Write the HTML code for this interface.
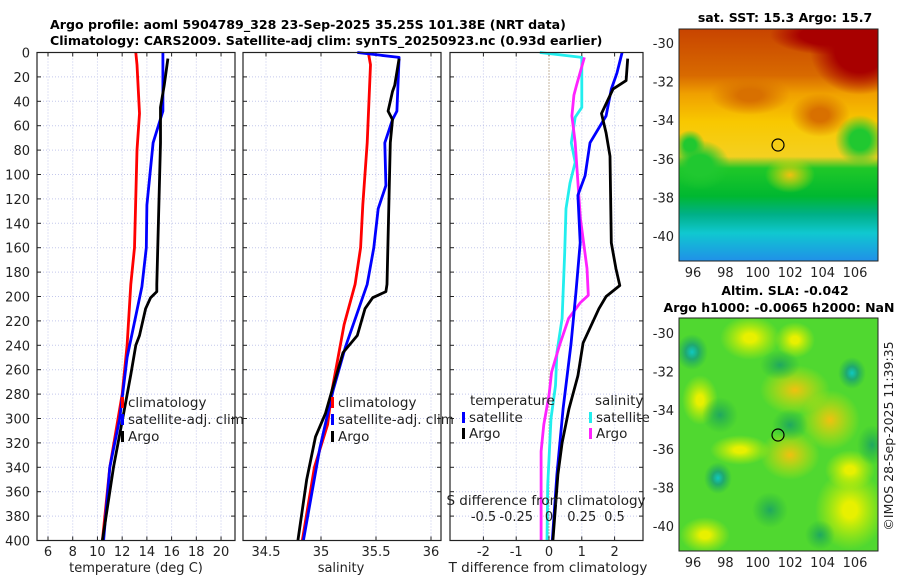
<!DOCTYPE html>
<html><head><meta charset="utf-8">
<style>
body{margin:0;background:#fff;width:900px;height:580px;overflow:hidden;font-family:"Liberation Sans","DejaVu Sans",sans-serif;}
svg text{font-family:"DejaVu Sans","Liberation Sans",sans-serif;}
</style></head>
<body>
<svg id="chart" width="900" height="580" xmlns="http://www.w3.org/2000/svg">
<defs>
<clipPath id="m1c"><rect x="679" y="29" width="199" height="232"/></clipPath>
<clipPath id="m2c"><rect x="679" y="318" width="199" height="233"/></clipPath>
<linearGradient id="sstg" x1="0" y1="0" x2="0" y2="1">
<stop offset="0" stop-color="#c84400"/><stop offset="0.2" stop-color="#d86a00"/>
<stop offset="0.28" stop-color="#f0a000"/><stop offset="0.4" stop-color="#f8c800"/>
<stop offset="0.55" stop-color="#f4d020"/><stop offset="0.6" stop-color="#20c828"/>
<stop offset="0.72" stop-color="#00b830"/><stop offset="0.8" stop-color="#00b088"/>
<stop offset="0.88" stop-color="#10c8d0"/><stop offset="1" stop-color="#2090e8"/>
</linearGradient>
<radialGradient id="dred"><stop offset="0.5" stop-color="#a80000"/><stop offset="1" stop-color="#a80000" stop-opacity="0"/></radialGradient>
<radialGradient id="grn"><stop offset="0.4" stop-color="#20c830"/><stop offset="1" stop-color="#20c830" stop-opacity="0"/></radialGradient>
<radialGradient id="org"><stop offset="0.3" stop-color="#d87000"/><stop offset="1" stop-color="#d87000" stop-opacity="0"/></radialGradient>
<radialGradient id="yel"><stop offset="0.2" stop-color="#e8f000"/><stop offset="1" stop-color="#c8f000" stop-opacity="0"/></radialGradient>
<radialGradient id="ora2"><stop offset="0" stop-color="#f0c010"/><stop offset="1" stop-color="#e0e800" stop-opacity="0"/></radialGradient>
<radialGradient id="teal"><stop offset="0" stop-color="#10c8c0"/><stop offset="0.4" stop-color="#20a870"/><stop offset="1" stop-color="#20b050" stop-opacity="0"/></radialGradient>
<radialGradient id="dgrn"><stop offset="0" stop-color="#20a860"/><stop offset="1" stop-color="#20b040" stop-opacity="0"/></radialGradient>
</defs>
<g id="titles">
<text x="50" y="29" font-size="12.6" font-weight="bold" fill="#000">Argo profile: aoml 5904789_328 23-Sep-2025 35.25S 101.38E (NRT data)</text>
<text x="50" y="45" font-size="12.6" font-weight="bold" fill="#000">Climatology: CARS2009. Satellite-adj clim: synTS_20250923.nc (0.93d earlier)</text>
</g>
<g id="panels"></g>
<g id="maps">
<g clip-path="url(#m1c)">
<rect x="679" y="29" width="199" height="232" fill="url(#sstg)"/>
<ellipse cx="860" cy="50" rx="50" ry="45" fill="url(#dred)"/>
<ellipse cx="830" cy="35" rx="60" ry="20" fill="url(#dred)"/>
<ellipse cx="750" cy="95" rx="40" ry="20" fill="url(#org)"/>
<ellipse cx="820" cy="115" rx="30" ry="22" fill="url(#org)"/>
<ellipse cx="860" cy="140" rx="25" ry="25" fill="url(#grn)"/>
<ellipse cx="700" cy="165" rx="30" ry="25" fill="url(#grn)"/>
<ellipse cx="690" cy="145" rx="15" ry="15" fill="url(#grn)"/>
<ellipse cx="790" cy="175" rx="25" ry="18" fill="url(#ora2)"/>
</g>
<rect x="679" y="29" width="199" height="232" fill="none" stroke="#222" stroke-width="1"/>
<circle cx="778" cy="145" r="6" fill="none" stroke="#000" stroke-width="1.2"/>
<text x="785" y="22" font-size="12.5" font-weight="bold" text-anchor="middle">sat. SST: 15.3 Argo: 15.7</text>
<g clip-path="url(#m2c)">
<rect x="679" y="318" width="199" height="233" fill="#50d830"/>
<ellipse cx="750" cy="338" rx="30" ry="22" fill="url(#yel)"/>
<ellipse cx="795" cy="340" rx="20" ry="18" fill="url(#yel)"/>
<ellipse cx="795" cy="390" rx="35" ry="25" fill="url(#ora2)"/>
<ellipse cx="830" cy="420" rx="30" ry="30" fill="url(#ora2)"/>
<ellipse cx="790" cy="455" rx="30" ry="25" fill="url(#ora2)"/>
<ellipse cx="740" cy="450" rx="30" ry="15" fill="url(#yel)"/>
<ellipse cx="850" cy="510" rx="35" ry="40" fill="url(#yel)"/>
<ellipse cx="705" cy="535" rx="25" ry="18" fill="url(#yel)"/>
<ellipse cx="700" cy="400" rx="18" ry="25" fill="url(#yel)"/>
<ellipse cx="850" cy="470" rx="25" ry="20" fill="url(#yel)"/>
<ellipse cx="692" cy="352" rx="16" ry="18" fill="url(#teal)"/>
<ellipse cx="852" cy="373" rx="14" ry="16" fill="url(#teal)"/>
<ellipse cx="718" cy="478" rx="14" ry="16" fill="url(#teal)"/>
<ellipse cx="790" cy="425" rx="18" ry="16" fill="url(#dgrn)"/>
<ellipse cx="780" cy="365" rx="20" ry="15" fill="url(#dgrn)"/>
<ellipse cx="720" cy="415" rx="18" ry="18" fill="url(#dgrn)"/>
<ellipse cx="872" cy="445" rx="15" ry="20" fill="url(#dgrn)"/>
<ellipse cx="770" cy="510" rx="18" ry="18" fill="url(#dgrn)"/>
<ellipse cx="820" cy="535" rx="15" ry="15" fill="url(#dgrn)"/>
</g>
<rect x="679" y="318" width="199" height="233" fill="none" stroke="#222" stroke-width="1"/>
<circle cx="778" cy="435" r="6" fill="none" stroke="#000" stroke-width="1.2"/>
<text x="785" y="295" font-size="12.5" font-weight="bold" text-anchor="middle">Altim. SLA: -0.042</text>
<text x="779" y="312" font-size="12.5" font-weight="bold" text-anchor="middle">Argo h1000: -0.0065 h2000: NaN</text>
<text transform="translate(893,436) rotate(-90)" font-size="12.5" fill="#222" text-anchor="middle">©IMOS 28-Sep-2025 11:39:35</text>
</g>
</svg>
<script>
const depthTicks=[0,20,40,60,80,100,120,140,160,180,200,220,240,260,280,300,320,340,360,380,400];
const tempTicks=[6,8,10,12,14,16,18,20];
const salTicks=[34.5,35,35.5,36];
const tdiffTicks=[-2,-1,0,1,2];
const sdiffTicks=[-0.5,-0.25,0,0.25,0.5];
const sdiffLabels=["-0.5","-0.25","0","0.25","0.5"];
const latTicks=[-30,-32,-34,-36,-38,-40];
const lonTicks=[96,98,100,102,104,106];
// temperature profiles
const tClimDepth=[0,10,50,80,160,190,240,280,340,400];
const tClim=[13.1,13.2,13.4,13.2,13.0,12.7,12.4,12.0,11.0,10.4];
const tSatDepth=[0,48,74,125,160,192,250,300,340,400];
const tSat=[15.3,15.3,14.5,14.0,13.95,13.6,12.4,11.8,11.0,10.5];
const tArgoDepth=[5,27,45,74,190,196,201,210,232,240,264,297,340,400];
const tArgo=[15.7,15.4,15.1,15.1,14.8,14.8,14.3,13.9,13.4,13.1,12.7,12.1,11.3,10.4];
// salinity profiles
const sClimDepth=[0,10,74,125,160,190,223,277,305,340,400];
const sClim=[35.43,35.45,35.42,35.38,35.36,35.31,35.21,35.1,35.06,34.94,34.83];
const sSatDepth=[0,4,48,55,74,109,128,160,190,242,277,324,400];
const sSat=[35.33,35.71,35.69,35.65,35.58,35.59,35.52,35.48,35.42,35.22,35.11,34.99,34.84];
const sArgoDepth=[5,27,32,48,55,74,190,196,201,210,232,246,277,296,315,350,400];
const sArgo=[35.71,35.67,35.65,35.61,35.65,35.63,35.6,35.59,35.47,35.4,35.33,35.2,35.1,35.04,34.95,34.87,34.79];
// differences
const dSSatDepth=[0,4,45,53,74,90,107,128,164,218,246,273,300,355,400];
const dSSat=[-0.07,0.25,0.25,0.2,0.17,0.2,0.16,0.13,0.12,0.1,0.06,0.05,0.015,-0.01,-0.015];
const dSArgoDepth=[4,27,35,52,74,136,177,199,205,218,240,262,281,305,327,400];
const dSArgo=[0.27,0.21,0.19,0.175,0.2,0.24,0.29,0.3,0.24,0.15,0.08,0.02,0,-0.04,-0.06,-0.06];
const dTSatDepth=[0,17,30,52,74,101,117,156,197,239,292,346,400];
const dTSat=[2.23,2.07,1.9,1.74,1.25,1.1,0.88,0.95,0.82,0.67,0.43,0.24,0.1];
const dTArgoDepth=[5,23,30,50,66,85,156,177,191,200,210,238,265,292,320,346,400];
const dTArgo=[2.4,2.35,1.95,1.6,1.74,1.86,1.9,2.04,2.16,1.74,1.52,1.04,0.88,0.61,0.4,0.27,0.12];

const NS="http://www.w3.org/2000/svg";
const root=document.getElementById('panels');
function el(tag,attrs,parent){const e=document.createElementNS(NS,tag);for(const k in attrs)e.setAttribute(k,attrs[k]);(parent||root).appendChild(e);return e;}
const Y0=52.5,YS=1.22;
function yD(d){return Y0+d*YS;}
const P1={x0:37,x1:235,v0:6,px0:48,scale:12.36};
const P2={x0:243,x1:441,v0:35,px0:321,scale:110};
const P3={x0:450,x1:643,v0:0,px0:549,scale:32.8};
const P3s={v0:0,px0:549,scale:131};
function xv(P,v){return P.px0+(v-P.v0)*P.scale;}
const yB=yD(400);
function panel(P,ticks,name){
  const g=el('g',{});
  
  
  ticks.forEach(t=>{const x=xv(P,t);
    const l=el('line',{x1:x,x2:x,y1:Y0,y2:yB,stroke:'#c4c8ec','stroke-width':1,'stroke-dasharray':'1,2'},g);
    
    el('line',{x1:x,x2:x,y1:Y0,y2:Y0+4,stroke:'#222'},g);el('line',{x1:x,x2:x,y1:yB,y2:yB-4,stroke:'#222'},g);});
  depthTicks.forEach(d=>{const y=yD(d);
    const l=el('line',{x1:P.x0,x2:P.x1,y1:y,y2:y,stroke:'#c4c8ec','stroke-width':1,'stroke-dasharray':'1,2'},g);
    
    el('line',{x1:P.x0,x2:P.x0+4,y1:y,y2:y,stroke:'#222'},g);el('line',{x1:P.x1,x2:P.x1-4,y1:y,y2:y,stroke:'#222'},g);});
  return g;
}
function frame(P,name){const r=el('rect',{x:P.x0,y:Y0,width:P.x1-P.x0,height:yB-Y0,fill:'none',stroke:'#222','stroke-width':1.2});
  }
function line(P,vals,depths,color,name,w){
  const pts=vals.map((v,i)=>xv(P,v).toFixed(1)+','+yD(depths[i]).toFixed(1)).join(' ');
  const p=el('polyline',{points:pts,fill:'none',stroke:color,'stroke-width':w||2.8,'stroke-linejoin':'round'});
  
}
function txt(x,y,s,attrs,name){const t=el('text',Object.assign({x:x,y:y,'font-size':13,fill:'#222'},attrs||{}));t.textContent=s;
  return t;}

// Panel 1
panel(P1,tempTicks,'temperature-panel');
line(P1,tClim,tClimDepth,'#ff0000','temp-climatology-line');
line(P1,tSat,tSatDepth,'#0000ff','temp-satellite-line');
line(P1,tArgo,tArgoDepth,'#000000','temp-argo-line');
frame(P1,'temperature-axes');
depthTicks.forEach(d=>txt(30,yD(d)+5,String(d),{'text-anchor':'end','font-size':13},'depth-tick-label'));
tempTicks.forEach(t=>txt(xv(P1,t),556,String(t),{'text-anchor':'middle'},'temp-tick-label'));
txt(136,572,'temperature (deg C)',{'text-anchor':'middle'},'temperature-axis-title');
// Panel 2
panel(P2,salTicks,'salinity-panel');
line(P2,sClim,sClimDepth,'#ff0000','sal-climatology-line');
line(P2,sSat,sSatDepth,'#0000ff','sal-satellite-line');
line(P2,sArgo,sArgoDepth,'#000000','sal-argo-line');
frame(P2,'salinity-axes');
salTicks.forEach(t=>txt(xv(P2,t),556,String(t),{'text-anchor':'middle'},'salinity-tick-label'));
txt(341,572,'salinity',{'text-anchor':'middle'},'salinity-axis-title');
// Panel 3
panel(P3,tdiffTicks,'difference-panel');
const zl=el('line',{x1:549,x2:549,y1:Y0,y2:yB,stroke:'#8a6a40','stroke-dasharray':'1,2','stroke-width':1});

line(P3s,dSSat,dSSatDepth,'#22eeee','sdiff-satellite-line');
line(P3s,dSArgo,dSArgoDepth,'#ff22ff','sdiff-argo-line');
line(P3,dTSat,dTSatDepth,'#0000ff','tdiff-satellite-line');
line(P3,dTArgo,dTArgoDepth,'#000000','tdiff-argo-line');
frame(P3,'difference-axes');
tdiffTicks.forEach(t=>txt(xv(P3,t),556,String(t),{'text-anchor':'middle'},'tdiff-tick-label'));
txt(548,572,'T difference from climatology',{'text-anchor':'middle','font-size':13.5},'tdiff-axis-title');
txt(546,505,'S difference from climatology',{'text-anchor':'middle','font-size':13.5},'sdiff-axis-title');
sdiffTicks.forEach((t,i)=>txt(xv(P3s,t),521,sdiffLabels[i],{'text-anchor':'middle'},'sdiff-tick-label'));

// legends
function legItem(x,y,color,label,name){
  const g=el('g',{});
  el('rect',{x:x,y:y-10,width:3,height:11,fill:color},g);
  const t=el('text',{x:x+7,y:y,'font-size':13.5,fill:'#222'},g);t.textContent=label;
}
legItem(121,407,'#ff0000','climatology','legend-entry-climatology');
legItem(121,424,'#0000ff','satellite-adj. clim','legend-entry-satellite');
legItem(121,441,'#000000','Argo','legend-entry-argo');
legItem(331,407,'#ff0000','climatology','legend-entry-climatology');
legItem(331,424,'#0000ff','satellite-adj. clim','legend-entry-satellite');
legItem(331,441,'#000000','Argo','legend-entry-argo');
txt(470,405,'temperature',{'font-size':13.5},'legend-title-temperature');
legItem(462,422,'#0000ff','satellite','legend-entry-tdiff-satellite');
legItem(462,438,'#000000','Argo','legend-entry-tdiff-argo');
txt(595,405,'salinity',{'font-size':13.5},'legend-title-salinity');
legItem(589,422,'#22eeee','satellite','legend-entry-sdiff-satellite');
legItem(589,438,'#ff22ff','Argo','legend-entry-sdiff-argo');

// map axes
function mapAxes(top,bot,yLat30,name){
  const g=el('g',{});
  latTicks.forEach(la=>{const y=yLat30+(-30-la)*19.3;
    el('line',{x1:679,x2:683,y1:y,y2:y,stroke:'#222'},g);el('line',{x1:878,x2:874,y1:y,y2:y,stroke:'#222'},g);
    const t=el('text',{x:674,y:y+5,'font-size':13,fill:'#222','text-anchor':'end'},g);t.textContent=String(la);});
  lonTicks.forEach(lo=>{const x=693+(lo-96)*16.2;
    el('line',{x1:x,x2:x,y1:bot,y2:bot-4,stroke:'#222'},g);el('line',{x1:x,x2:x,y1:top,y2:top+4,stroke:'#222'},g);
    const t=el('text',{x:x,y:bot+16,'font-size':13,fill:'#222','text-anchor':'middle'},g);t.textContent=String(lo);});
}
mapAxes(29,261,43,'sst-map-axes');
mapAxes(318,551,333,'sla-map-axes');
</script>
</body></html>
